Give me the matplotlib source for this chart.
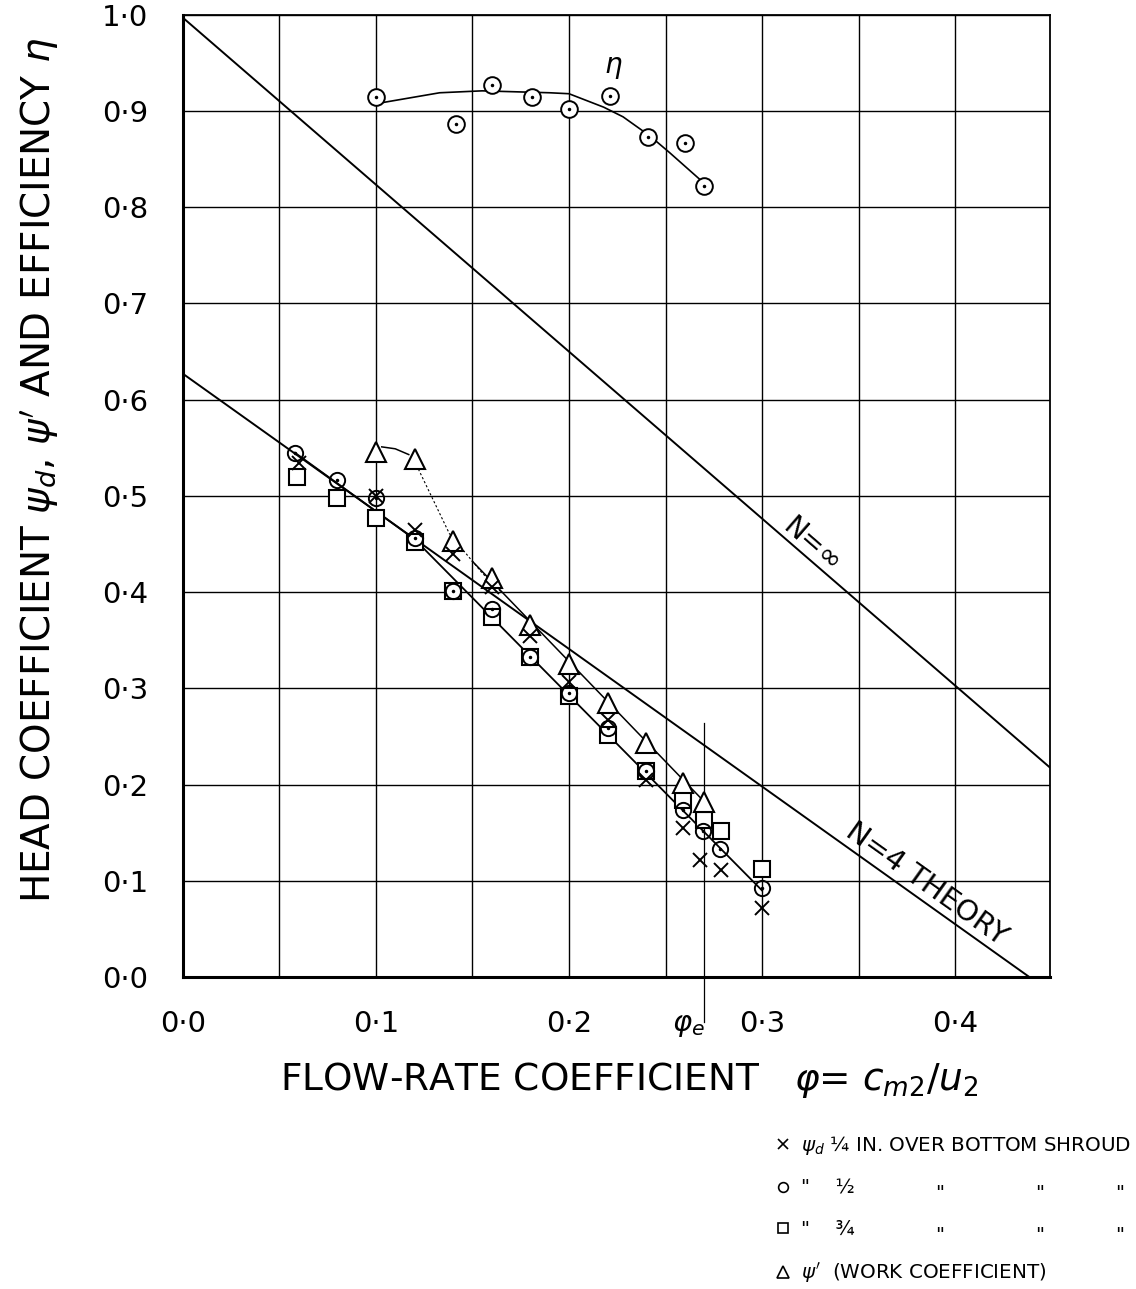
import numpy as np
import matplotlib.pyplot as plt
from matplotlib.lines import Line2D

# --- measured points (read off the sheet) ---
# psi_d, 1/4 in. over bottom shroud  (x marks)
phi_q = [0.06, 0.10, 0.12, 0.14, 0.16, 0.18, 0.20, 0.22, 0.24, 0.259, 0.268, 0.279, 0.30]
psi_q = [0.534, 0.500, 0.465, 0.440, 0.405, 0.354, 0.307, 0.267, 0.205, 0.155, 0.122, 0.111, 0.072]

# psi_d, 1/2 in. (circles)
phi_h = [0.058, 0.080, 0.10, 0.12, 0.14, 0.16, 0.18, 0.20, 0.22, 0.24, 0.259, 0.2695, 0.278, 0.30]
psi_h = [0.545, 0.517, 0.498, 0.456, 0.401, 0.383, 0.333, 0.295, 0.259, 0.214, 0.174, 0.152, 0.133, 0.093]

# psi_d, 3/4 in. (squares)
phi_t = [0.059, 0.080, 0.10, 0.12, 0.14, 0.16, 0.18, 0.20, 0.22, 0.24, 0.259, 0.27, 0.279, 0.30]
psi_t = [0.520, 0.498, 0.477, 0.452, 0.401, 0.374, 0.333, 0.292, 0.252, 0.214, 0.184, 0.163, 0.152, 0.112]

# psi' work coefficient (triangles)
phi_w = [0.10, 0.12, 0.14, 0.16, 0.18, 0.20, 0.22, 0.24, 0.259, 0.27]
psi_w = [0.546, 0.538, 0.453, 0.415, 0.366, 0.325, 0.285, 0.243, 0.202, 0.182]

# efficiency
phi_eta = [0.10, 0.1415, 0.16, 0.181, 0.20, 0.221, 0.241, 0.26, 0.27]
eta = [0.915, 0.887, 0.927, 0.915, 0.902, 0.916, 0.873, 0.867, 0.822]

# hand-faired curves / lines
phi_eta_c = [0.104, 0.133, 0.155, 0.19, 0.20, 0.218, 0.228, 0.242, 0.252, 0.27]
eta_c = [0.909, 0.919, 0.921, 0.919, 0.918, 0.904, 0.894, 0.874, 0.857, 0.825]

phi_inf = [0.0, 0.449]
psi_inf = [0.997, 0.218]
phi_n4 = [0.0, 0.4385]
psi_n4 = [0.627, 0.0]
phi_fit = [0.058, 0.12, 0.30]
psi_fit = [0.545, 0.455, 0.090]
phi_wfit = [0.150, 0.275]
psi_wfit = [0.432, 0.172]
phi_wdot = [0.121, 0.138, 0.155, 0.165]
psi_wdot = [0.532, 0.461, 0.420, 0.400]
phi_wtop = [0.103, 0.110, 0.117]
psi_wtop = [0.551, 0.549, 0.543]
phi_e = 0.27

xticks = [0.0, 0.1, 0.2, 0.3, 0.4]
yticks = [0.0, 0.1, 0.2, 0.3, 0.4, 0.5, 0.6, 0.7, 0.8, 0.9, 1.0]

W, H = 1136, 1289
fig = plt.figure(figsize=(W / 100, H / 100), dpi=100)
ax = fig.add_axes([0.161, 0.242, 0.763, 0.7465])
ax.set_xlim(0, 0.449)
ax.set_ylim(0, 1.0)

ax.set_xticks(xticks)
ax.set_xticklabels([f"{v:.1f}".replace(".", "·") for v in xticks], fontsize=21)
ax.set_xticks(np.arange(0.05, 0.45, 0.1), minor=True)
ax.set_yticks(yticks)
ax.set_yticklabels([f"{v:.1f}".replace(".", "·") for v in yticks], fontsize=21)
ax.tick_params(which="both", length=0)
ax.tick_params(axis="x", pad=24)
ax.tick_params(axis="y", pad=25)
ax.grid(True, which="both", color="k", lw=1.0)
ax.set_axisbelow(True)
for s in ["left", "bottom"]:
    ax.spines[s].set_linewidth(2.2)
for s in ["top", "right"]:
    ax.spines[s].set_linewidth(1.3)

# theory lines and fairings
ax.plot(phi_inf, psi_inf, color="k", lw=1.4)
ax.plot(phi_n4, psi_n4, color="k", lw=1.4)
ax.plot(phi_fit, psi_fit, color="k", lw=1.3)
ax.plot(phi_wfit, psi_wfit, color="k", lw=1.1)
ax.plot(phi_wdot, psi_wdot, color="k", lw=0.8, ls=(0, (2, 2)))
ax.plot(phi_wtop, psi_wtop, color="k", lw=1.1)
ax.plot(phi_eta_c, eta_c, color="k", lw=1.2)
ax.plot([phi_e, phi_e], [0.264, -0.047], color="k", lw=0.9, clip_on=False)

# measured points
ax.plot(phi_q, psi_q, ls="none", marker="x", ms=10, mew=1.4, color="k", zorder=4)
ax.plot(phi_h, psi_h, ls="none", marker="o", ms=11, mew=1.4, mfc="none", color="k", zorder=4)
ax.plot(phi_h, psi_h, ls="none", marker=".", ms=3, color="k", zorder=4)
ax.plot(phi_t, psi_t, ls="none", marker="s", ms=11, mew=1.5, mfc="white", color="k", zorder=3)
ax.plot(phi_w, psi_w, ls="none", marker="^", ms=15, mew=1.5, mfc="white", color="k", zorder=3)
ax.plot(phi_eta, eta, ls="none", marker="o", ms=12, mew=1.4, mfc="white", color="k", zorder=4)
ax.plot(phi_eta, eta, ls="none", marker=".", ms=3, color="k", zorder=5)

ax.text(0.218, 0.94, r"$\eta$", fontsize=20)
ax.text(0.326, 0.449, "N=∞", fontsize=20, rotation=-41, ha="center", va="center")
ax.text(0.385, 0.097, "N=4 THEORY", fontsize=21, rotation=-35.5, ha="center", va="center")
ax.text(0.262, -0.05, r"$\varphi_e$", fontsize=21, ha="center", va="center", clip_on=False)

fig.text(629 / W, 1 - 1080 / H, r"FLOW-RATE COEFFICIENT   $\varphi$= $c_{m2}/u_2$",
         fontsize=27, ha="center", va="center")
fig.text(40 / W, 1 - 470 / H,
         r"HEAD COEFFICIENT $\psi_d$, $\psi'$ AND EFFICIENCY $\eta$",
         fontsize=28, rotation=90, ha="center", va="center")

handles = [
    Line2D([], [], ls="none", marker="x", ms=7, mew=1.2, color="k"),
    Line2D([], [], ls="none", marker="o", ms=7, mew=1.2, mfc="none", color="k"),
    Line2D([], [], ls="none", marker="s", ms=7, mew=1.2, mfc="none", color="k"),
    Line2D([], [], ls="none", marker="^", ms=8, mew=1.2, mfc="none", color="k"),
]
labels = [
    r"$\psi_d$ ¼ IN. OVER BOTTOM SHROUD",
    '"    ½',
    '"    ¾',
    r"$\psi'$  (WORK COEFFICIENT)",
]
fig.legend(handles, labels, loc="upper left", bbox_to_anchor=(775 / W, 1 - 1134 / H),
           frameon=False, fontsize=14.3, handlelength=0.8, handletextpad=0.5,
           labelspacing=1.1, borderaxespad=0, borderpad=0)

# ditto marks for the repeated legend wording
for row_y in [1193, 1235]:
    for col_x in [940, 1040, 1120]:
        fig.text(col_x / W, 1 - row_y / H, '"', fontsize=14.3, ha="center", va="center")

fig.savefig("out.png", dpi=100)
